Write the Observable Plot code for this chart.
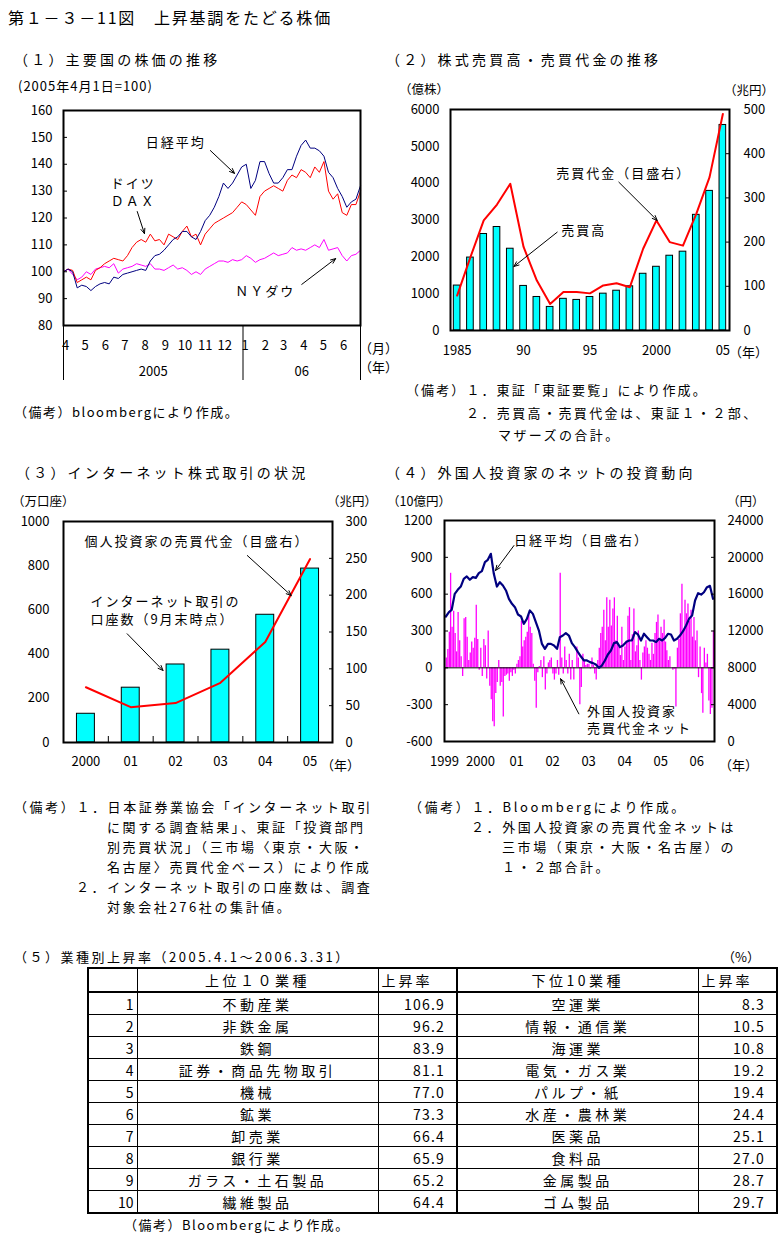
<!DOCTYPE html>
<html lang="ja"><head><meta charset="utf-8">
<script src="https://cdn.jsdelivr.net/npm/d3@7"></script>
<script src="https://cdn.jsdelivr.net/npm/@observablehq/plot@0.6"></script>
<style>
html,body{margin:0;padding:0;background:#fff;}
#root{position:relative;width:783px;height:1240px;background:#fff;font-family:"Noto Sans CJK JP","Noto Sans",sans-serif;color:#000;overflow:hidden;}
.t{position:absolute;white-space:nowrap;line-height:1;}
table.rank{position:absolute;left:87px;top:967px;border-collapse:collapse;table-layout:fixed;border:2px solid #000;font-size:14px;}
table.rank td{border:1px solid #000;padding:0;height:21px;line-height:1;white-space:nowrap;overflow:hidden;}
table.rank tr.hd td{height:22px;border-bottom:2px solid #000;}
</style></head><body><div id="root"></div>
<script>
// ---------------- (1) 主要国の株価の推移 (weekly, 2005-04-01 = 100) ----------------
const p1StartStr = "2005-04-01";
const p1EndStr = "2006-06-30";
const p1Nikkei = [100,101,100,94,95,94.5,93,94.5,95.5,96,
  95.5,98,97.5,99,99.5,100,100.5,101,100.5,104,
  106,106.5,108,110,112,113,115,115,113,112,
  115,119,121,124,128,133,131,133,136,139,
  140,131,134,141,141,136.5,133,133,135,138,
  138,143,147,149,146,146,145,143,137,135,
  131,128,124,126,127,132];
const p1Dax = [100,101,100.5,96,97,98,97,100.5,101.5,103,
  104,105,104.5,104,106,109,111,112,111,114,
  111.5,112,110,114,113,112,115,117,113,114,
  110,114,116,118,119,120,121,122,124,126,
  125,123,121,128,130,131,132,131,130,134,
  136,135,138,137,135,139,137,141,130,127,
  129,122,121,125,125,130];
const p1Dow = [100,101,99,97,98,100,99,101,101.5,102,
  101.5,103,99.5,101,101.5,102,103,102.5,102,103,
  101,101,100.5,101.5,102.5,101,101.5,100.5,99,100,
  99,101,102,103,104,104,103.5,104.5,104,104.5,
  106,105,103.5,104.5,105,106,107,106,106.5,107,
  109,108,108.5,108,109,110,109,112,108,108.5,
  109,106,104,106,106.5,108];
const p1YTicks = [80,90,100,110,120,130,140,150,160];
const p1Labels = [
  {date:"2005-09-20", value:148.0, text:"日経平均"},
  {date:"2005-07-17", value:132.8, text:"ドイツ"},
  {date:"2005-07-17", value:126.1, text:"ＤＡＸ"},
  {date:"2006-02-04", value:92.6, text:"ＮＹダウ"}];
const p1Arrows = [
  {x1:"2005-11-12", y1:145.1, x2:"2005-12-19", y2:136.6},
  {x1:"2005-07-23", y1:122.4, x2:"2005-08-03", y2:114.2},
  {x1:"2006-04-01", y1:95.3, x2:"2006-05-23", y2:104.9}];

// ---------------- (2) 株式売買高・売買代金の推移 ----------------
const p2Years = [1985,1986,1987,1988,1989,1990,1991,1992,1993,1994,1995,1996,1997,1998,1999,2000,2001,2002,2003,2004,2005];
const p2Volume = [1220,1980,2620,2810,2220,1210,910,640,860,830,910,1000,1080,1200,1540,1730,2030,2140,3140,3790,5580]; // 億株
const p2Value = [79,166,249,285,332,189,113,60,87,87,84,102,107,98,185,249,200,192,264,347,490]; // 兆円
const p2LeftTicks = [0,1000,2000,3000,4000,5000,6000];
const p2RightTicks = [0,100,200,300,400,500];
const p2XTicks = [1985,1990,1995,2000,2005];
const p2Labels = [
  {x:1997.54, y:4254, text:"売買代金（目盛右）"},
  {x:1994.53, y:2715, text:"売買高"}];
const p2Arrows = [
  {x1:1997.17, y1:4027, x2:2000.06, y2:2987},
  {x1:1992.53, y1:2669, x2:1989.27, y2:1738}];

// ---------------- (3) インターネット株式取引の状況 ----------------
const p3Years = [2000,2001,2002,2003,2004,2005];
const p3Accounts = [130,248,353,420,578,787]; // 万口座
const p3Individual = [75,48,53.5,81,136.5,249]; // 兆円
const p3LeftTicks = [0,200,400,600,800,1000];
const p3RightTicks = [0,50,100,150,200,250,300];
const p3Labels = [
  {x:2002.48, y:906, text:"個人投資家の売買代金（目盛右）", anchor:"middle"},
  {x:2000.10, y:635, text:"インターネット取引の", anchor:"start"},
  {x:2000.10, y:555, text:"口座数（9月末時点）", anchor:"start"}];
const p3Arrows = [
  {x1:2003.60, y1:846, x2:2004.58, y2:665},
  {x1:2000.92, y1:492, x2:2001.72, y2:326}];

// ---------------- (4) 外国人投資家のネットの投資動向 ----------------
const p4StartStr = "1999-01-01";
const p4EndStr = "2006-06-30";
// 日経平均 monthly (円), 1999-01 .. 2006-06
const p4Nikkei = [
  13575,14045,14300,16040,16470,16830,17660,17920,17560,17850,17770,18280,
  18500,19480,19730,20380,18210,16830,17300,16940,16400,15490,14950,14590,
  13790,13575,12780,13320,14230,13860,12960,12050,10600,10060,10600,10600,
  10430,10060,11330,11510,11770,11510,10680,10250,9700,9230,8800,8800,
  8620,8510,8360,8000,8250,8800,9450,9880,10680,10790,10250,10430,
  10790,10970,10970,11880,11620,10970,11700,11330,10970,10970,10790,11150,
  10970,11260,11700,11620,10970,11150,11510,11980,12600,13320,13680,15310,
  16110,15960,16210,16760,16900,15500];
// 外国人投資家 売買代金ネット (10億円), half-monthly, 1999-01 .. 2006-06
const p4Flow = [
  -20,80,150,290,770,330,460,280,130,450,220,90,-70,400,410,250,60,120,210,160,240,510,230,-20,
  160,-70,230,180,-90,300,-150,-260,-440,-480,-210,-120,60,-150,-120,-400,-70,-60,-50,-110,-40,-70,-20,-50,
  30,60,90,380,170,220,250,290,430,330,280,30,-110,-330,-40,10,60,-80,90,-180,-50,40,60,80,
  -50,-100,-50,60,-60,770,80,-50,170,60,-50,110,-100,60,-100,0,170,80,-300,-160,110,60,20,30,
  30,-10,80,20,-50,-100,60,160,280,330,470,220,570,330,550,340,480,570,220,420,170,100,330,60,
  170,220,420,490,60,270,480,130,180,300,60,-100,120,170,220,160,110,60,200,110,280,370,430,220,
  330,280,390,210,140,60,90,0,-20,-10,-320,160,230,440,680,300,550,440,520,380,470,250,410,220,
  300,-80,170,-210,-370,160,40,110,-270,-380,-330,300];
const p4LeftTicks = [-600,-300,0,300,600,900,1200];
const p4RightTicks = [0,4000,8000,12000,16000,20000,24000];
const p4XYears = [1999,2000,2001,2002,2003,2004,2005,2006];
const p4Labels = [
  {date:"2000-12-05", y:1037, text:"日経平均（目盛右）"},
  {date:"2002-12-16", y:-361, text:"外国人投資家"},
  {date:"2002-12-16", y:-497, text:"売買代金ネット"}];
const p4Arrows = [
  {x1:"2000-12-05", y1:996, x2:"2000-06-01", y2:793},
  {x1:"2002-09-24", y1:-375, x2:"2002-03-23", y2:-89}];

// ---------------- (5) 業種別上昇率 ----------------
const rankNo = [1,2,3,4,5,6,7,8,9,10];
const topIndustry = ["不動産業","非鉄金属","鉄鋼","証券・商品先物取引","機械","鉱業","卸売業","銀行業","ガラス・土石製品","繊維製品"];
const topRate = [106.9,96.2,83.9,81.1,77.0,73.3,66.4,65.9,65.2,64.4];
const bottomIndustry = ["空運業","情報・通信業","海運業","電気・ガス業","パルプ・紙","水産・農林業","医薬品","食料品","金属製品","ゴム製品"];
const bottomRate = [8.3,10.5,10.8,19.2,19.4,24.4,25.1,27.0,28.7,29.7];

// ================= rendering =================
const root = document.getElementById("root");
const FONT = "'Noto Sans CJK JP','Noto Sans',sans-serif";
const NAVY = "#000080", RED = "#FF0000", MAG = "#FF00FF", CYAN = "#00FFFF";
const baseStyle = {fontFamily: FONT, fontSize: "13px", color: "black", background: "none", overflow: "visible"};
const plain = d => String(d);

function T(txt, left, cy, fs, ls) {
  const d = document.createElement("div");
  d.className = "t";
  d.textContent = txt;
  d.style.left = left + "px";
  d.style.top = (cy - 0.556 * fs) + "px";
  d.style.fontSize = fs + "px";
  d.style.letterSpacing = (ls || 0) + "px";
  root.appendChild(d);
  return d;
}
function place(svg, left, top) {
  const w = document.createElement("div");
  w.style.position = "absolute"; w.style.left = left + "px"; w.style.top = top + "px";
  w.appendChild(svg); root.appendChild(w);
  svg.querySelectorAll('g[aria-label="text"] text').forEach(t => t.style.letterSpacing = "2px");
}
const fmtYr = y => (y === 1985 || y === 1999 || y === 2000) ? String(y) : String(y % 100).padStart(2, "0");
const D = s => new Date(s);

// ---- titles ----
T("第１－３－11図　上昇基調をたどる株価", 8, 18, 16, 1.8);
T("（１）主要国の株価の推移", 14, 60, 14, 3.2);
T("（２）株式売買高・売買代金の推移", 386, 60, 14, 3.2);
T("（３）インターネット株式取引の状況", 16, 473, 14, 3.2);
T("（４）外国人投資家のネットの投資動向", 386, 473, 14, 3.2);

// ---- panel 1 ----
{
  const start = D(p1StartStr), end = D(p1EndStr);
  const data = p1Nikkei.map((v, i) => ({date: d3.utcDay.offset(start, 7 * i), nikkei: v, dax: p1Dax[i], dow: p1Dow[i]}));
  const seps = [start, D("2006-01-01"), end];
  const yearPos = [new Date((+seps[0] + +seps[1]) / 2), new Date((+seps[1] + +seps[2]) / 2)];
  const months = d3.utcMonth.range(start, D("2006-07-01"));
  const labels = p1Labels.map(d => ({...d, date: D(d.date)}));
  const arrows = p1Arrows.map(d => ({...d, x1: D(d.x1), x2: D(d.x2)}));
  const svg = Plot.plot({
    width: 390, height: 300, marginLeft: 63, marginRight: 30, marginTop: 10, marginBottom: 75,
    style: baseStyle,
    x: {type: "utc", domain: [start, end]},
    y: {domain: [80, 160]},
    marks: [
      Plot.line(data, {x: "date", y: "dow", stroke: MAG, strokeWidth: 1}),
      Plot.line(data, {x: "date", y: "dax", stroke: RED, strokeWidth: 1}),
      Plot.line(data, {x: "date", y: "nikkei", stroke: NAVY, strokeWidth: 1}),
      Plot.frame({stroke: "black", strokeWidth: 2}),
      Plot.axisY({ticks: p1YTicks, tickSize: 0, tickPadding: 11, tickFormat: plain, label: null}),
      Plot.axisY({ticks: p1YTicks.slice(1, -1), tickSize: -4, tickFormat: () => "", label: null}),
      Plot.axisX({ticks: seps, tickSize: 55, tickFormat: () => "", label: null}),
      Plot.axisX({ticks: months, tickSize: 0, tickPadding: 15, dx: 2, tickFormat: d => String(d.getUTCMonth() + 1), label: null}),
      Plot.axisX({ticks: yearPos, tickSize: 0, tickPadding: 41, tickFormat: d => d.getUTCFullYear() === 2005 ? "2005" : "06", label: null}),
      Plot.text(labels, {x: "date", y: "value", text: "text", fontSize: 13}),
      Plot.arrow(arrows, {x1: "x1", y1: "y1", x2: "x2", y2: "y2", stroke: "black", strokeWidth: 1, headLength: 8, headAngle: 45})
    ]
  });
  place(svg, 0, 100);
  T("(2005年4月1日=100)", 18, 86, 13, 1);
  T("（月）", 359, 348, 13, 0);
  T("（年）", 359, 367, 13, 0);
  T("（備考）bloombergにより作成。", 14, 412, 13, 1.5);
}

// ---- panel 2 ----
{
  const data = p2Years.map((y, i) => ({year: y, volume: p2Volume[i], value: p2Value[i]}));
  const k = 6000 / 500;
  const svg = Plot.plot({
    width: 393, height: 300, marginLeft: 60, marginRight: 54, marginTop: 29, marginBottom: 50,
    style: baseStyle,
    x: {domain: [1984.5, 2005.5]},
    y: {domain: [0, 6000]},
    marks: [
      Plot.rectY(data, {x1: d => d.year - 0.25, x2: d => d.year + 0.25, y: "volume", fill: CYAN, stroke: "black", strokeWidth: 1}),
      Plot.line(data, {x: "year", y: d => d.value * k, stroke: RED, strokeWidth: 2}),
      Plot.frame({stroke: "black", strokeWidth: 2}),
      Plot.axisY({ticks: p2LeftTicks, tickSize: 0, tickPadding: 11, tickFormat: plain, label: null}),
      Plot.axisY({anchor: "right", ticks: p2RightTicks.map(t => t * k), tickFormat: d => String(Math.round(d / k)), tickSize: 0, tickPadding: 14, label: null}),
      Plot.axisY({anchor: "right", ticks: p2RightTicks.slice(1, -1).map(t => t * k), tickSize: -4, tickFormat: () => "", label: null}),
      Plot.axisX({ticks: p2XTicks, tickFormat: fmtYr, tickSize: 0, tickPadding: 15, label: null}),
      Plot.text(p2Labels, {x: "x", y: "y", text: "text", fontSize: 13}),
      Plot.arrow(p2Arrows, {x1: "x1", y1: "y1", x2: "x2", y2: "y2", stroke: "black", strokeWidth: 1, headLength: 8, headAngle: 45})
    ]
  });
  place(svg, 390, 80);
  T("（億株）", 399, 90, 12.5, 0);
  T("（兆円）", 724, 91, 12.5, 0);
  T("（年）", 729, 352, 13, 0);
  T("（備考）１．東証「東証要覧」により作成。", 406, 390, 13, 2.1);
  T("２．売買高・売買代金は、東証１・２部、", 466, 413, 13, 2.4);
  T("マザーズの合計。", 498, 435, 13, 2.4);
}

// ---- panel 3 ----
{
  const data = p3Years.map((y, i) => ({year: y, accounts: p3Accounts[i], indiv: p3Individual[i]}));
  const k = 1000 / 300;
  const svg = Plot.plot({
    width: 390, height: 300, marginLeft: 63, marginRight: 58, marginTop: 21, marginBottom: 58,
    style: baseStyle,
    x: {domain: [1999.5, 2005.5]},
    y: {domain: [0, 1000]},
    marks: [
      Plot.rectY(data, {x1: d => d.year - 0.2, x2: d => d.year + 0.2, y: "accounts", fill: CYAN, stroke: "black", strokeWidth: 1}),
      Plot.line(data, {x: "year", y: d => d.indiv * k, stroke: RED, strokeWidth: 2}),
      Plot.frame({stroke: "black", strokeWidth: 2}),
      Plot.axisY({ticks: p3LeftTicks, tickSize: 0, tickPadding: 14, tickFormat: plain, label: null}),
      Plot.axisY({anchor: "right", ticks: p3RightTicks.map(t => t * k), tickFormat: d => String(Math.round(d / k)), tickSize: 0, tickPadding: 13, label: null}),
      Plot.axisY({anchor: "right", ticks: p3RightTicks.slice(1, -1).map(t => t * k), tickSize: -4, tickFormat: () => "", label: null}),
      Plot.axisX({ticks: p3Years.slice(0, -1).map(y => y + 0.5), tickSize: -6, tickFormat: () => "", label: null}),
      Plot.axisX({ticks: p3Years, tickFormat: fmtYr, tickSize: 0, tickPadding: 14, label: null}),
      Plot.text(p3Labels, {x: "x", y: "y", text: "text", textAnchor: "start", fontSize: 13, filter: d => d.anchor === "start"}),
      Plot.text(p3Labels, {x: "x", y: "y", text: "text", fontSize: 13, filter: d => d.anchor === "middle"}),
      Plot.arrow(p3Arrows, {x1: "x1", y1: "y1", x2: "x2", y2: "y2", stroke: "black", strokeWidth: 1, headLength: 8, headAngle: 45})
    ]
  });
  place(svg, 0, 500);
  T("（万口座）", 12, 502, 12.5, 0);
  T("（兆円）", 327, 502, 12.5, 0);
  T("（年）", 321, 765, 13, 0);
  T("（備考）１．日本証券業協会「インターネット取引", 14, 807, 13, 2.6);
  T("に関する調査結果」、東証「投資部門", 107, 827, 13, 2.6);
  T("別売買状況」（三市場〈東京・大阪・", 107, 847, 13, 2.6);
  T("名古屋〉売買代金ベース）により作成", 107, 867, 13, 2.6);
  T("２．インターネット取引の口座数は、調査", 76, 887, 13, 2.6);
  T("対象会社276社の集計値。", 107, 907, 13, 2.6);
}

// ---- panel 4 ----
{
  const start = D(p4StartStr), end = D(p4EndStr);
  const k = 1800 / 24000, off = -600;
  const nk = p4Nikkei.map((v, i) => ({date: d3.utcDay.offset(d3.utcMonth.offset(start, i), 14), v}));
  const flow = p4Flow.map((v, i) => ({date: d3.utcDay.offset(d3.utcMonth.offset(start, Math.floor(i / 2)), i % 2 ? 18 : 3), v}));
  const labels = p4Labels.map(d => ({...d, date: D(d.date)}));
  const arrows = p4Arrows.map(d => ({...d, x1: D(d.x1), x2: D(d.x2)}));
  const yearTicks = p4XYears.map(y => new Date(Date.UTC(y, 0, 1)));
  const svg = Plot.plot({
    width: 393, height: 300, marginLeft: 54, marginRight: 69, marginTop: 20, marginBottom: 59,
    style: baseStyle,
    x: {type: "utc", domain: [start, end]},
    y: {domain: [-600, 1200]},
    marks: [
      Plot.ruleX(flow, {x: "date", y1: 0, y2: "v", stroke: MAG, strokeWidth: 1.3}),
      Plot.ruleY([0], {stroke: "black", strokeWidth: 1}),
      Plot.line(nk, {x: "date", y: d => d.v * k + off, stroke: NAVY, strokeWidth: 2.2}),
      Plot.frame({stroke: "black", strokeWidth: 2}),
      Plot.axisY({ticks: p4LeftTicks, tickSize: 0, tickPadding: 12, tickFormat: plain, label: null}),
      Plot.axisY({ticks: p4LeftTicks.slice(1, -1), tickSize: -4, tickFormat: () => "", label: null}),
      Plot.axisY({anchor: "right", ticks: p4RightTicks.map(t => t * k + off), tickFormat: d => String(Math.round((d - off) / k)), tickSize: 0, tickPadding: 13, label: null}),
      Plot.axisY({anchor: "right", ticks: p4RightTicks.slice(1, -1).map(t => t * k + off), tickSize: -4, tickFormat: () => "", label: null}),
      Plot.axisX({ticks: yearTicks, tickFormat: d => fmtYr(d.getUTCFullYear()), tickSize: 0, tickPadding: 15, label: null}),
      Plot.text(labels, {x: "date", y: "y", text: "text", textAnchor: "start", fontSize: 13}),
      Plot.arrow(arrows, {x1: "x1", y1: "y1", x2: "x2", y2: "y2", stroke: "black", strokeWidth: 1, headLength: 8, headAngle: 45})
    ]
  });
  place(svg, 390, 500);
  T("（10億円）", 387, 502, 12.5, 0);
  T("（円）", 727, 502, 12.5, 0);
  T("（年）", 719, 765, 13, 0);
  T("（備考）１．Bloombergにより作成。", 409, 807, 13, 2.6);
  T("２．外国人投資家の売買代金ネットは", 471, 827, 13, 2.6);
  T("三市場（東京・大阪・名古屋）の", 502, 847, 13, 2.6);
  T("１・２部合計。", 502, 867, 13, 2.6);
}

// ---- table (5) ----
{
  T("（５）業種別上昇率（2005.4.1～2006.3.31）", 14, 957, 13, 2.5);
  T("（%）", 722, 957, 13, 0);
  const tbl = document.createElement("table");
  tbl.className = "rank";
  const widths = [49, 241, 79, 241, 79];
  const cg = document.createElement("colgroup");
  widths.forEach(w => { const c = document.createElement("col"); c.style.width = w + "px"; cg.appendChild(c); });
  tbl.appendChild(cg);
  const mk = (tr, txt, css) => { const td = document.createElement("td"); td.textContent = txt; td.style.cssText += css; tr.appendChild(td); return td; };
  const hd = document.createElement("tr"); hd.className = "hd";
  mk(hd, "", "");
  mk(hd, "上位１０業種", "text-align:center;letter-spacing:3.5px;");
  mk(hd, "上昇率", "text-align:left;padding-left:3px;letter-spacing:3px;");
  mk(hd, "下位10業種", "text-align:center;letter-spacing:3.5px;border-left:2px solid #000;");
  mk(hd, "上昇率", "text-align:left;padding-left:3px;letter-spacing:3px;");
  tbl.appendChild(hd);
  rankNo.forEach((n, i) => {
    const tr = document.createElement("tr");
    mk(tr, String(n), "text-align:right;padding-right:3px;");
    mk(tr, topIndustry[i], "text-align:center;letter-spacing:3.5px;");
    mk(tr, topRate[i].toFixed(1), "text-align:right;padding-right:11px;letter-spacing:1.2px;");
    mk(tr, bottomIndustry[i], "text-align:center;letter-spacing:3.5px;border-left:2px solid #000;");
    mk(tr, bottomRate[i].toFixed(1), "text-align:right;padding-right:11px;letter-spacing:1.2px;");
    tbl.appendChild(tr);
  });
  root.appendChild(tbl);
  T("（備考）Bloombergにより作成。", 124, 1225, 13, 1.5);
}
</script></body></html>
